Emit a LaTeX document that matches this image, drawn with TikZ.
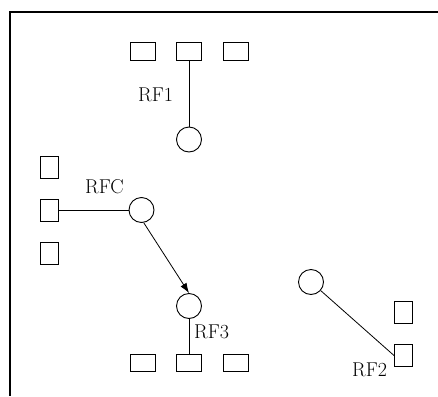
\documentclass[tikz,border=0pt]{standalone}
\usepackage{tikz}
\usetikzlibrary{arrows.meta}

\begin{document}
\begin{tikzpicture}[x=1pt,y=-1pt]
  \tikzstyle{PortStyle}=[draw,line width=1pt,inner sep=0pt]
  \tikzstyle{RowPort}=[PortStyle,minimum width=25pt,minimum height=17pt]
  \tikzstyle{ColPort}=[PortStyle,minimum width=18pt,minimum height=22pt]
  \tikzstyle{RFStyle}=[draw,circle,line width=0.9pt,inner sep=0pt,minimum size=25pt]
  \tikzstyle{LabelStyle}=[inner sep=0pt,anchor=west,font=\fontsize{20}{22}\selectfont]
  \tikzstyle{EdgeStyle}=[line width=0.8pt]
  \useasboundingbox (0,0) rectangle (438,396);
  \draw[line width=1.2pt] (438,12) -- (10,12) -- (10,396);
  % ports
  \node[RowPort] (t1) at (142.5,51.5) {};
  \node[RowPort] (t2) at (189,51.5) {};
  \node[RowPort] (t3) at (235.5,51.5) {};
  \node[RowPort] (b1) at (142.5,363) {};
  \node[RowPort] (b2) at (189,363) {};
  \node[RowPort] (b3) at (235.5,363) {};
  \node[ColPort] (l1) at (49,167) {};
  \node[ColPort] (l2) at (49,210) {};
  \node[ColPort] (l3) at (49,253) {};
  \node[ColPort] (r1) at (403.5,312) {};
  \node[ColPort] (r2) at (403.5,355.5) {};
  % rf units
  \node[RFStyle] (rf1) at (189,139.5) {};
  \node[RFStyle] (rfc) at (141.5,210) {};
  \node[RFStyle] (rf3) at (189,306) {};
  \node[RFStyle] (rf2) at (311,282) {};
  \node[LabelStyle] (lrf1) at (138,95) {RF1};
  \node[LabelStyle] (lrfc) at (85,187) {RFC};
  \node[LabelStyle] (lrf3) at (194,332) {RF3};
  \node[LabelStyle] (lrf2) at (352,370) {RF2};
  \draw[EdgeStyle] (t2) -- (rf1);
  \draw[EdgeStyle] (l2) -- (rfc);
  \draw[EdgeStyle,-{Latex[length=10pt,width=7pt]}] (rfc.-80) -- (rf3.north);
  \draw[EdgeStyle] (rf3) -- (b2);
  \draw[EdgeStyle] (rf2) -- (r2.west);
\end{tikzpicture}
\end{document}
